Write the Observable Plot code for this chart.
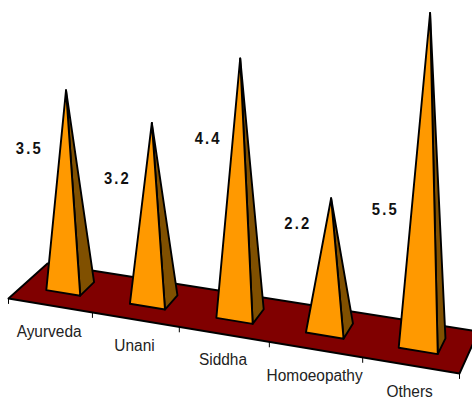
<!DOCTYPE html>
<html>
<head>
<meta charset="utf-8">
<script src="https://cdn.jsdelivr.net/npm/d3@7"></script>
<script src="https://cdn.jsdelivr.net/npm/@observablehq/plot@0.6"></script>
<style>
html,body{margin:0;padding:0;background:#fff}
svg{display:block}
g[font-weight="bold"] text{letter-spacing:2.5px}
</style>
</head>
<body>
<div id="chart"></div>
<script>
// data
const categories = ["Ayurveda", "Unani", "Siddha", "Homoeopathy", "Others"];
const valueLabels = ["3.5", "3.2", "4.4", "2.2", "5.5"];
// heights as drawn in the picture (the second spike stands a little short of its label)
const values = [3.5, 3.1, 4.4, 2.2, 5.5];

// layout of the oblique view
const floorFL = [8, 298], floorFR = [459, 373], floorBR = [478, 331], floorBL = [47, 263];
const valueLabelHeight = [2.46, 2.12, 3.02, 1.77, 2.22];
const valueLabelShift = [-38, -35, -32, -33, -40];
const halfWidth = 0.205, depth0 = 0.34, depth1 = 0.72;

// homography: unit square to floor quad
const [x0, y0] = floorFL, [x1, y1] = floorFR, [x2, y2] = floorBR, [x3, y3] = floorBL;
const dx1 = x1 - x2, dx2 = x3 - x2, sx = x0 - x1 + x2 - x3;
const dy1 = y1 - y2, dy2 = y3 - y2, sy = y0 - y1 + y2 - y3;
const det = dx1 * dy2 - dx2 * dy1;
const g = (sx * dy2 - dx2 * sy) / det, h = (dx1 * sy - sx * dy1) / det;
const a = x1 - x0 + g * x1, b = x3 - x0 + h * x3, d = y1 - y0 + g * y1, e = y3 - y0 + h * y3;
function floor(c, v) {
  const u = c / categories.length, w = g * u + h * v + 1;
  return [(a * u + b * v + x0) / w, (d * u + e * v + y0) / w];
}
// a point above the floor; verticals spread away from the view centre
function raised(c, v, amount) {
  const [x, y] = floor(c, v);
  const rise = amount * (55.5 + 5 * c / categories.length);
  return [x + (x - 239) * rise * 1.3e-4, y - rise];
}

const pt = (id, p) => ({id, x: p[0], y: p[1]});
const front = [], side = [];
values.forEach((val, i) => {
  const c = i + 0.5, mid = (depth0 + depth1) / 2;
  const FL = floor(c - halfWidth, depth0), FR = floor(c + halfWidth, depth0), BR = floor(c + halfWidth, depth1);
  const apex = raised(c, mid, val);
  [FL, FR, apex, FL].forEach(p => front.push(pt(i, p)));
  [FR, BR, apex, FR].forEach(p => side.push(pt(i, p)));
});
const floorPoly = [[0, 0], [5, 0], [5, 1], [0, 1], [0, 0]].map(([c, v]) => pt(0, floor(c, v)));
const ticks = d3.range(categories.length + 1).flatMap(i => {
  const [x, y] = floor(i, 0);
  return [{id: i, x, y}, {id: i, x, y: y + 5}];
});
const catLabels = categories.map((name, i) => {
  const [x, y] = floor(i + 0.5, 0);
  return {name, x: x - 1, y: y + 26};
});
const valLabels = valueLabels.map((text, i) => {
  const [x, y] = raised(i + 0.5, (depth0 + depth1) / 2, valueLabelHeight[i]);
  return {text, x: x + valueLabelShift[i], y};
});

const shared = {x: "x", y: "y", z: "id", stroke: "#000"};
const chart = Plot.plot({
  width: 472,
  height: 400,
  margin: 0,
  x: {domain: [0, 472], range: [0, 472], axis: null},
  y: {domain: [0, 400], range: [0, 400], axis: null},
  marks: [
    Plot.line(floorPoly, {...shared, fill: "#800000", strokeWidth: 1.9}),
    Plot.line(ticks, {...shared, strokeWidth: 1}),
    Plot.line(side, {...shared, fill: "#805000", strokeWidth: 1.9}),
    Plot.line(front, {...shared, fill: "#FF9900", strokeWidth: 1.9}),
    Plot.text(catLabels, {x: "x", y: "y", text: "name", fontFamily: "Liberation Sans, sans-serif", fontSize: 16, fill: "#222"}),
    Plot.text(valLabels, {x: "x", y: "y", text: "text", fontFamily: "Liberation Sans, sans-serif", fontSize: 17, fontWeight: "bold", fill: "#111"})
  ]
});
document.getElementById("chart").append(chart);
// narrow the glyphs, keeping the real text
chart.querySelectorAll("text").forEach(t => {
  const bold = t.parentNode.getAttribute("font-weight") === "bold";
  t.setAttribute("textLength", t.getComputedTextLength() * (bold ? 0.87 : 0.965));
  t.setAttribute("lengthAdjust", "spacingAndGlyphs");
});
</script>
</body>
</html>
